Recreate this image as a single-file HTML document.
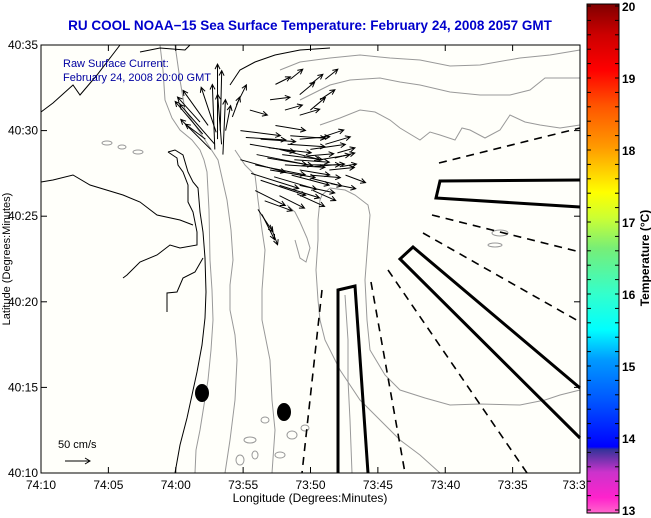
<!DOCTYPE html>
<html><head><meta charset="utf-8"><style>
html,body{margin:0;padding:0;background:#fff;}
svg{display:block;font-family:"Liberation Sans",Arial,sans-serif;}
</style></head><body>
<svg id="chart" width="651" height="518" viewBox="0 0 651 518">
<defs>
<linearGradient id="cbar" x1="0" y1="1" x2="0" y2="0">
<stop offset="0" stop-color="#ff66cc"/>
<stop offset="0.03" stop-color="#ff22cc"/>
<stop offset="0.08" stop-color="#cc33cc"/>
<stop offset="0.125" stop-color="#333399"/>
<stop offset="0.13" stop-color="#0000ff"/>
<stop offset="0.22" stop-color="#0055ff"/>
<stop offset="0.30" stop-color="#0099ff"/>
<stop offset="0.36" stop-color="#00ffff"/>
<stop offset="0.43" stop-color="#33ffcc"/>
<stop offset="0.52" stop-color="#77ee77"/>
<stop offset="0.58" stop-color="#ccff33"/>
<stop offset="0.63" stop-color="#ffff00"/>
<stop offset="0.72" stop-color="#ff9900"/>
<stop offset="0.80" stop-color="#ff5500"/>
<stop offset="0.87" stop-color="#ff0000"/>
<stop offset="0.94" stop-color="#cc0000"/>
<stop offset="1" stop-color="#800000"/>
</linearGradient>
</defs>
<rect x="41" y="45" width="539" height="428" fill="#fffffa"/>
<g id="gray" fill="none" stroke="#999" stroke-width="1">
<polyline points="280,70 300,62 330,58 360,55 390,58 420,60 450,66 480,65 520,58 550,55 580,50"/>
<polyline points="300,100 330,85 350,80 380,78 400,82 420,85 450,92 480,95 510,95 530,90 545,78 580,78"/>
<polyline points="320,125 340,118 360,110 375,112 390,120 400,128 420,140 430,132 440,135 455,140 462,128 470,130 485,138 500,130 510,115 525,122 540,125 560,128 580,125"/>
<polyline points="330,188 345,190 355,195 368,205 370,215 368,240 365,280 367,320 370,350 385,375 400,390 425,398 450,405 480,404 520,405 545,400 560,395 580,390"/>
<polyline points="330,188 322,195 320,200 318,220 318,240 316,270 318,300 320,320 325,340 340,370 360,400 380,420 400,440 420,455 440,473"/>
<polyline points="345,295 348,340 348,380 350,420 352,473"/>
<polyline points="287,205 295,212 300,222 307,238 310,248 306,262 300,258 295,240"/>
<polyline points="160,45 163,70 165,100 172,118 180,130 192,140 200,150 204,160 207,172 209,210 210,260 212,290 213,320 211,350 208,380 204,405 200,430 196,450 195,473"/>
<polyline points="175,45 180,80 185,110 195,125 205,140 218,160 227,200 231,230 233,260 230,285 230,310 235,335 237,360 236,380 235,400 230,440 225,473"/>
<polyline points="235,150 245,165 255,175 258,200 262,230 265,250 262,290 262,320 266,340 270,360 272,400 275,430 272,473"/>
<ellipse cx="107" cy="143" rx="5" ry="2"/><ellipse cx="122" cy="147" rx="4" ry="2"/><ellipse cx="138" cy="152" rx="5" ry="2"/>
<ellipse cx="250" cy="440" rx="6" ry="3"/><ellipse cx="280" cy="455" rx="5" ry="3"/><ellipse cx="240" cy="460" rx="4" ry="5"/>
<ellipse cx="265" cy="420" rx="4" ry="3"/><ellipse cx="292" cy="435" rx="5" ry="4"/><ellipse cx="255" cy="455" rx="3" ry="4"/>
<ellipse cx="305" cy="428" rx="4" ry="3"/><ellipse cx="500" cy="233" rx="8" ry="3"/><ellipse cx="495" cy="245" rx="7" ry="2"/>
</g>
<g id="coast" fill="none" stroke="#000" stroke-width="1">
<polyline points="168,152 175,150 183,155 188,172 193,182 198,188 200,212 203,232 205,258 206,292 205,318 202,345 197,372 192,395 187,418 180,445 175,473"/>
<polyline points="168,152 177,158 178,165 183,172 188,185 188,202 193,212 197,232 197,245 180,248 170,245 157,255 140,262 127,275 123,278"/>
<polyline points="41,182 53,180 73,175 90,185 123,195 140,202 157,215 180,220 193,225"/>
<polyline points="41,112 53,103 73,85 80,95 97,75 120,45"/>
<polyline points="167,312 167,293 177,292 183,278 195,272 203,258"/>
<polyline points="230,85 240,70 255,62 275,55 300,50 330,48"/>
<polyline points="140,52 160,48 185,50 190,45"/>
</g>
<g fill="none" stroke="#000" stroke-width="3">
<polyline points="338,473 338,290 355,286 368,473"/>
<polyline points="580,180 440,181 436,198 580,207"/>
<polyline points="580,388 413,247 400,259 580,438"/>
</g>
<g fill="none" stroke="#000" stroke-width="1.6" stroke-dasharray="8,6">
<line x1="439" y1="163" x2="580" y2="128"/>
<line x1="432" y1="215" x2="580" y2="252"/>
<line x1="423" y1="233" x2="580" y2="322"/>
<line x1="388" y1="270" x2="527" y2="473"/>
<line x1="371" y1="282" x2="405" y2="473"/>
<line x1="322" y1="290" x2="302" y2="473"/>
</g>
<ellipse cx="202" cy="393" rx="7" ry="9" fill="#000"/>
<ellipse cx="284" cy="412" rx="7" ry="9" fill="#000"/>
<g id="arrows"></g>
<text x="63" y="67" font-size="11" fill="#0000a0">Raw Surface Current:</text>
<text x="63" y="81" font-size="11" fill="#0000a0">February 24, 2008 20:00 GMT</text>
<text x="58" y="448" font-size="11" fill="#000">50 cm/s</text>
<g stroke="#000" fill="none"><line x1="65" y1="461" x2="90" y2="461"/><polyline points="85,458 90,461 85,464"/></g>
<rect x="41" y="45" width="539" height="428" fill="none" stroke="#000" stroke-width="1"/>
<g id="axes" font-size="12" fill="#000"></g>
<text x="310" y="502" font-size="12" text-anchor="middle">Longitude (Degrees:Minutes)</text>
<text transform="translate(10,259) rotate(-90)" font-size="11" text-anchor="middle">Latitude (Degrees:Minutes)</text>
<text x="310" y="30" font-size="13.5" font-weight="bold" fill="#0000cc" text-anchor="middle">RU COOL  NOAA−15  Sea Surface Temperature:  February 24, 2008 2057 GMT</text>
<rect x="587" y="4" width="32" height="509" fill="url(#cbar)" stroke="#000" stroke-width="1"/>
<g id="cbticks"></g>
<text transform="translate(649,258) rotate(-90)" font-size="12" font-weight="bold" text-anchor="middle">Temperature (°C)</text>
</svg>
<script>
// Current vectors: position in minutes east of 74:10 / north of 40:10, velocity cm/s
const arrowLon=[17.4,18.5,19.2,19.99,20.7,17.0,18.1,19.2,19.99,15.5,21.1,14.8,15.5,16.3,17.4,17.7,18.5,19.2,19.99,20.7,21.1,14.8,15.9,17.0,18.1,19.2,19.99,21.4,22.6,16.3,17.7,19.2,15.9,16.6,17.7,13.1,13.3,12.9,13.4,12.6,12.9,12.2,13.7,16.4,17.0,16.1,
 16.0,16.8,17.9,18.8,19.6,20.3,21.8,22.3,15.2,16.9,18.3,19.5,20.8,22.0,15.6,17.3,18.6,20.1,21.5,12.0,12.4,13.0,13.5,11.8,14.2,14.5,19.0,20.2];
const arrowLat=[22.7,23.0,22.1,22.7,21.8,21.8,21.2,20.9,21.2,21.2,23.0,20.0,19.2,19.5,20.3,18.9,19.7,19.5,18.9,18.3,19.2,18.3,18.0,17.7,18.0,17.7,17.4,17.7,17.4,17.1,16.8,16.8,16.5,15.9,16.2,19.5,20.0,18.9,19.2,18.9,19.2,19.5,20.0,15.1,14.5,15.4,
 18.6,18.4,18.6,18.3,18.0,17.9,18.4,17.9,19.6,19.0,19.2,18.5,19.6,18.7,17.5,17.3,17.4,17.2,16.9,19.8,20.3,19.9,18.6,20.5,20.8,21.5,16.3,16.5];
const arrowU=[30,25,30,25,30,40,35,40,30,35,25,80,90,70,60,80,70,60,70,60,50,90,100,90,80,60,60,50,40,90,80,70,60,55,50,0,3,-5,-8,-60,-70,-40,10,25,15,30,
 100,90,80,70,70,60,40,30,80,85,75,60,45,35,95,85,75,60,50,-55,-50,-30,5,-45,15,20,55,45];
const arrowV=[15,20,25,20,20,5,10,12,25,-10,20,-10,-15,-5,-10,-20,-5,5,10,10,15,-25,-20,-15,-5,-10,-5,5,-15,-30,-25,-15,-30,-20,-25,150,120,130,100,60,80,30,50,-50,-40,-45,
 -20,-15,-10,-5,0,5,10,5,-5,-10,-5,5,15,10,-30,-25,-20,-15,-10,65,70,90,110,50,40,40,-25,-20];
const latTicks=["40:10","40:15","40:20","40:25","40:30","40:35"];
const lonTicks=["74:10","74:05","74:00","73:55","73:50","73:45","73:40","73:35","73:3"];
const cbLabels=[13,14,15,16,17,18,19,20];

const NS="http://www.w3.org/2000/svg";
const xS=m=>41+m*13.475, yS=m=>473-m*17.12, k=0.5;
const ag=document.getElementById('arrows');
for(let i=0;i<arrowLon.length;i++){
  const x=xS(arrowLon[i]),y=yS(arrowLat[i]);
  const dx=arrowU[i]*k,dy=-arrowV[i]*k,L=Math.hypot(dx,dy)||1;
  const ux=dx/L,uy=dy/L,x2=x+dx,y2=y+dy,h=Math.min(5,L*0.35);
  const p=document.createElementNS(NS,'path');
  p.setAttribute('d',`M${x},${y}L${x2},${y2}M${x2-h*ux-h*0.5*uy},${y2-h*uy+h*0.5*ux}L${x2},${y2}L${x2-h*ux+h*0.5*uy},${y2-h*uy-h*0.5*ux}`);
  p.setAttribute('stroke','#000');p.setAttribute('fill','none');p.setAttribute('stroke-width','1');
  
  
  ag.appendChild(p);
}
const ax=document.getElementById('axes');
latTicks.forEach((t,i)=>{
  const y=yS(i*5);
  const tx=document.createElementNS(NS,'text');
  tx.setAttribute('x',38);tx.setAttribute('y',y+4);tx.setAttribute('text-anchor','end');tx.textContent=t;
  
  
  ax.appendChild(tx);
  [[41,47],[574,580]].forEach(a=>{const l=document.createElementNS(NS,'line');l.setAttribute('x1',a[0]);l.setAttribute('x2',a[1]);l.setAttribute('y1',y);l.setAttribute('y2',y);l.setAttribute('stroke','#000');
  
  
  ax.appendChild(l);});
});
lonTicks.forEach((t,i)=>{
  const x=xS(i*5);
  const tx=document.createElementNS(NS,'text');
  tx.setAttribute('x',i===8?x-6:x);tx.setAttribute('y',489);tx.setAttribute('text-anchor','middle');tx.textContent=t;
  
  
  ax.appendChild(tx);
  [[45,51],[467,473]].forEach(a=>{const l=document.createElementNS(NS,'line');l.setAttribute('x1',x);l.setAttribute('x2',x);l.setAttribute('y1',a[0]);l.setAttribute('y2',a[1]);l.setAttribute('stroke','#000');
  
  
  ax.appendChild(l);});
});
const cb=document.getElementById('cbticks');
const cy=v=>510-(v-13)*72;
for(let v=13;v<=20.001;v+=0.2){
  const y=cy(v);
  [[587,591],[615,619]].forEach(a=>{const l=document.createElementNS(NS,'line');l.setAttribute('x1',a[0]);l.setAttribute('x2',a[1]);l.setAttribute('y1',y);l.setAttribute('y2',y);l.setAttribute('stroke','#000');
  
  
  cb.appendChild(l);});
}
cbLabels.forEach(v=>{
  const t=document.createElementNS(NS,'text');
  t.setAttribute('x',622);t.setAttribute('y',cy(v)+5);t.setAttribute('font-size','12');t.setAttribute('font-weight','bold');t.textContent=v;
  
  
  cb.appendChild(t);
});
</script>
</body></html>
